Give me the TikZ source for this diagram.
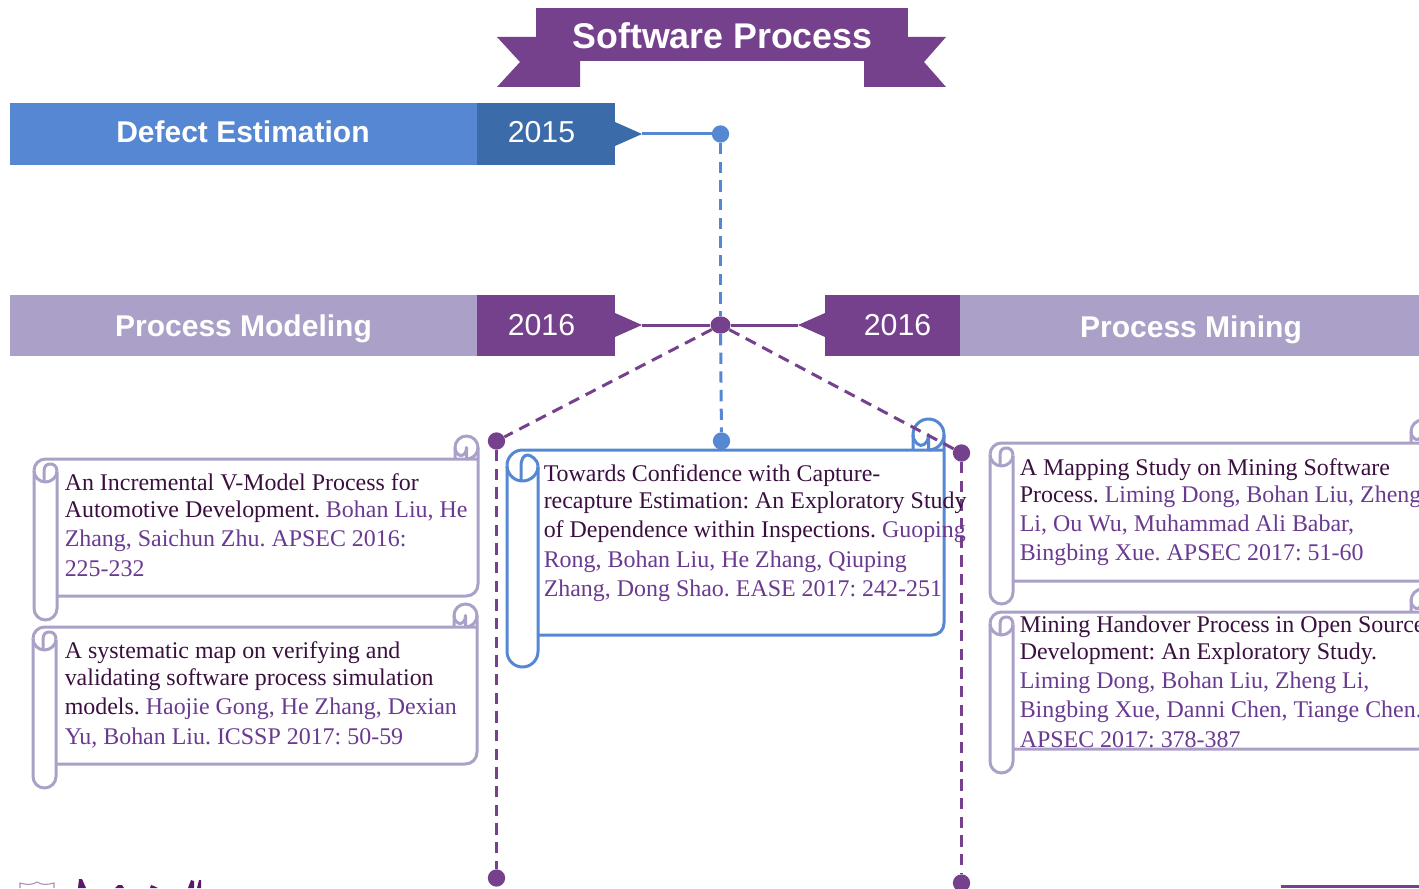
\documentclass[tikz,border=0pt]{standalone}
\usepackage{fontspec}
\usetikzlibrary{shapes.geometric}
\setmainfont{Liberation Serif}
\newfontfamily\hdfont{Liberation Sans}
\definecolor{cblue}{HTML}{5587D2}
\definecolor{cdblue}{HTML}{3C6BA9}
\definecolor{cpurple}{HTML}{75418C}
\definecolor{clilac}{HTML}{ABA1C8}
\definecolor{cdark}{HTML}{3A0F3F}
\definecolor{cauth}{HTML}{6A3A90}
\definecolor{clogo}{HTML}{5A1A6A}
\newcommand{\au}[1]{\textcolor{cauth}{#1}}
\tikzset{
  bar/.style={inner sep=0pt,outer sep=0pt,text=white,font=\hdfont\bfseries\fontsize{22.5}{23}\selectfont},
  yearbox/.style={inner sep=0pt,outer sep=0pt,text=white,font=\hdfont\fontsize{22.7}{23}\selectfont},
  dot/.style={circle,inner sep=0pt,minimum size=13pt},
  dashline/.style={line width=2.25pt,dash pattern=on 8.5pt off 5.5pt},
  paper/.style={inner sep=0pt,anchor=base west,text=cdark,font=\fontsize{17.95}{18}\selectfont\frenchspacing},
  scrollline/.style={line width=2.25pt,line join=round}
}
% colour, left, top, right, bottom, tail bottom, radius
\newcommand{\scrollbox}[7]{%
  \pgfmathsetmacro{\rr}{#7}%
  \pgfmathsetmacro{\li}{#2+2*\rr}%
  \pgfmathsetmacro{\lm}{#2+\rr}%
  \pgfmathsetmacro{\cx}{#4-\rr}%
  \pgfmathsetmacro{\ca}{#4-2*\rr}%
  \pgfmathsetmacro{\cy}{#3-\rr}%
  \pgfmathsetmacro{\ct}{#3-2*\rr}%
  \pgfmathsetmacro{\lo}{#3+\rr}%
  \pgfmathsetmacro{\lb}{#3+2*\rr}%
  \pgfmathsetmacro{\tb}{#6-\rr}%
  \draw[scrollline,#1]
    (\li,#5) -- (#4-12,#5) .. controls (#4-5,#5) and (#4,#5-5) .. (#4,#5-12)
    -- (#4,\cy)
    .. controls (#4,\cy-0.55*\rr) and (\cx+0.55*\rr,\ct) .. (\cx,\ct)
    .. controls (\cx-0.55*\rr,\ct) and (\ca,\cy-0.55*\rr) .. (\ca,\cy)
    -- (\ca,#3);
  \draw[scrollline,#1] (#4,\cy) .. controls (#4,#3-0.45*\rr) and (\cx+0.55*\rr,#3) .. (\cx,#3);
  \draw[scrollline,#1] (\ca,\cy) .. controls (\ca,\cy+0.55*\rr) and (\cx-0.55*\rr,\cy+\rr*0.7) .. (\cx-0.5*\rr,\cy+\rr*0.7)
    .. controls (\cx-0.2*\rr,\cy+\rr*0.7) and (\cx,\cy+0.4*\rr) .. (\cx,\cy) -- (\cx,#3);
  \draw[scrollline,#1]
    (#2,\lo) .. controls (#2,#3+0.45*\rr) and (\lm-0.55*\rr,#3) .. (\lm,#3)
    -- (#4,#3);
  \draw[scrollline,#1]
    (#2,\lo) -- (#2,\tb)
    .. controls (#2,\tb+0.55*\rr) and (\lm-0.55*\rr,#6) .. (\lm,#6)
    .. controls (\lm+0.55*\rr,#6) and (\li,\tb+0.55*\rr) .. (\li,\tb)
    -- (\li,\lo+1);
  \draw[scrollline,#1]
    (#2,\lo) .. controls (#2,\lb-0.45*\rr) and (\lm-0.55*\rr,\lb) .. (\lm,\lb)
    .. controls (\lm+0.55*\rr,\lb) and (\li,\lb-0.45*\rr) .. (\li,\lo+1);
  \draw[scrollline,#1]
    (\lm-1.5,\lb) -- (\lm-1.5,\lo+1) .. controls (\lm-1.5,#3+0.6*\rr) and (\lm+1,#3+5) .. (\lm+5,#3+5)
    .. controls (\lm+8,#3+5) and (\li,#3+0.6*\rr) .. (\li,\lo+1);
}
\begin{document}
\begin{tikzpicture}[x=0.75pt,y=-0.75pt]
\useasboundingbox (0,0) rectangle (1419,888);
\clip (0,0) rectangle (1419,888);
% banner
\fill[cpurple] (497,37) -- (537,37) -- (537,61) -- (580,61) -- (580,87) -- (497,87) -- (520,62) -- cycle;
\fill[cpurple] (946,37) -- (907,37) -- (907,61) -- (864,61) -- (864,87) -- (946,87) -- (924,62) -- cycle;
\fill[cpurple] (535.5,8) rectangle (908,61);
\node[bar,font=\hdfont\bfseries\fontsize{26.8}{27}\selectfont] (title) at (722.5,36) {Software Process};
% bars
\fill[cblue] (10,103) rectangle (477,165);
\fill[cdblue] (477,103) rectangle (615,165);
\fill[clilac] (10,295) rectangle (477,356);
\fill[cpurple] (477,295) rectangle (615,356);
\fill[cpurple] (825,295) rectangle (960,356);
\fill[clilac] (960,295) rectangle (1419,356);
\node[bar] (defect) at (243,132) {Defect Estimation};
\node[yearbox] (y2015) at (541.5,132) {2015};
\node[bar] (model) at (243.5,329) {Process Modeling};
\node[yearbox] (y2016a) at (541.5,325) {2016};
\node[yearbox] (y2016b) at (897.5,325) {2016};
\node[bar] (mining) at (1191,330) {Process Mining};
% pointers
\coordinate (tipa) at (642,134);
\coordinate (tipb) at (642,325);
\coordinate (tipc) at (798,325);
\fill[cdblue] (615,122) -- (tipa) -- (615,146) -- cycle;
\fill[cpurple] (615,313) -- (tipb) -- (615,337) -- cycle;
\fill[cpurple] (825,313) -- (tipc) -- (825,337) -- cycle;
% scrolls
\scrollbox{clilac}{34}{459}{478}{596}{620}{11.5}
\scrollbox{clilac}{33}{627}{477}{764}{788}{11.5}
\scrollbox{cblue}{507}{450}{944}{635}{667}{15.5}
\scrollbox{clilac}{990}{443}{1434}{581}{604}{11.5}
\scrollbox{clilac}{990}{612}{1434}{749}{773}{11.5}
% dots
\node[dot,fill=cblue] (d1) at (720.5,134) {};
\node[fill=cpurple,ellipse,inner sep=0pt,minimum height=13pt,minimum width=15pt] (d2) at (720.5,325) {};
\node[dot,fill=cblue] (d3) at (721.5,441) {};
\node[dot,fill=cpurple] (d4) at (496.5,441) {};
\node[dot,fill=cpurple] (d5) at (961.5,453) {};
\node[dot,fill=cpurple] (d6) at (496.5,878) {};
\node[dot,fill=cpurple] (d7) at (961.5,883) {};
% connectors
\draw[cblue,line width=2.25pt] (tipa) -- (d1);
\draw[cpurple,line width=2.25pt] (tipb) -- (d2);
\draw[cpurple,line width=2.25pt] (tipc) -- (d2);
\draw[cblue,dashline] (d1) -- (d2);
\draw[cblue,dashline] (d2) -- (d3);
\draw[cpurple,dashline] (d2) -- (d4);
\draw[cpurple,dashline] (d2) -- (d5);
\draw[cpurple,dashline] (d4) -- (d6);
\draw[cpurple,dashline] (d5) -- (d7);
% left papers
\node[paper] (a1) at (64.5,490) {An Incremental V-Model Process for};
\node[paper] (a2) at (64.5,517) {Automotive Development. \au{Bohan Liu, He}};
\node[paper] (a3) at (64.5,546) {\au{Zhang, Saichun Zhu. APSEC 2016:}};
\node[paper] (a4) at (64.5,576) {\au{225-232}};
\node[paper] (b1) at (64.5,658) {A systematic map on verifying and};
\node[paper] (b2) at (64.5,685) {validating software process simulation};
\node[paper] (b3) at (64.5,714) {models. \au{Haojie Gong, He Zhang, Dexian}};
\node[paper] (b4) at (64.5,744) {\au{Yu, Bohan Liu. ICSSP 2017: 50-59}};
% centre paper
\node[paper] (c1) at (543.5,481) {Towards Confidence with Capture-};
\node[paper] (c2) at (543.5,508) {recapture Estimation: An Exploratory Study};
\node[paper] (c3) at (543.5,537) {of Dependence within Inspections. \au{Guoping}};
\node[paper] (c4) at (543.5,567) {\au{Rong, Bohan Liu, He Zhang, Qiuping}};
\node[paper] (c5) at (543.5,596) {\au{Zhang, Dong Shao. EASE 2017: 242-251}};
% right papers
\node[paper] (e1) at (1019.5,475) {A Mapping Study on Mining Software};
\node[paper] (e2) at (1019.5,502) {Process. \au{Liming Dong, Bohan Liu, Zheng}};
\node[paper] (e3) at (1019.5,531) {\au{Li, Ou Wu, Muhammad Ali Babar,}};
\node[paper] (e4) at (1019.5,560) {\au{Bingbing Xue. APSEC 2017: 51-60}};
\node[paper] (f1) at (1019.5,632) {Mining Handover Process in Open Source};
\node[paper] (f2) at (1019.5,659) {Development: An Exploratory Study.};
\node[paper] (f3) at (1019.5,688) {\au{Liming Dong, Bohan Liu, Zheng Li,}};
\node[paper] (f4) at (1019.5,717) {\au{Bingbing Xue, Danni Chen, Tiange Chen.}};
\node[paper] (f5) at (1019.5,747) {\au{APSEC 2017: 378-387}};
% bottom cut-off elements
\fill[cpurple] (1281,885) rectangle (1419,888);
\draw[clogo!50,line width=0.8pt] (20,888) -- (20,883) .. controls (28,885) and (32,885) .. (37,882) .. controls (42,885) and (47,885) .. (54,883) -- (54,888);
\fill[clogo] (78,888) -- (79,879) -- (82,879) -- (86,888) -- cycle;
\fill[clogo] (115,888) -- (118,885) -- (122,885) -- (124,888) -- cycle;
\fill[clogo] (150,888) -- (151,885) -- (154,886) -- (158,888) -- cycle;
\fill[clogo] (188,888) -- (191,880) -- (194,881) -- (194,888) -- cycle;
\fill[clogo] (197,888) -- (199,880) -- (201,880) -- (201,888) -- cycle;
\end{tikzpicture}
\end{document}
